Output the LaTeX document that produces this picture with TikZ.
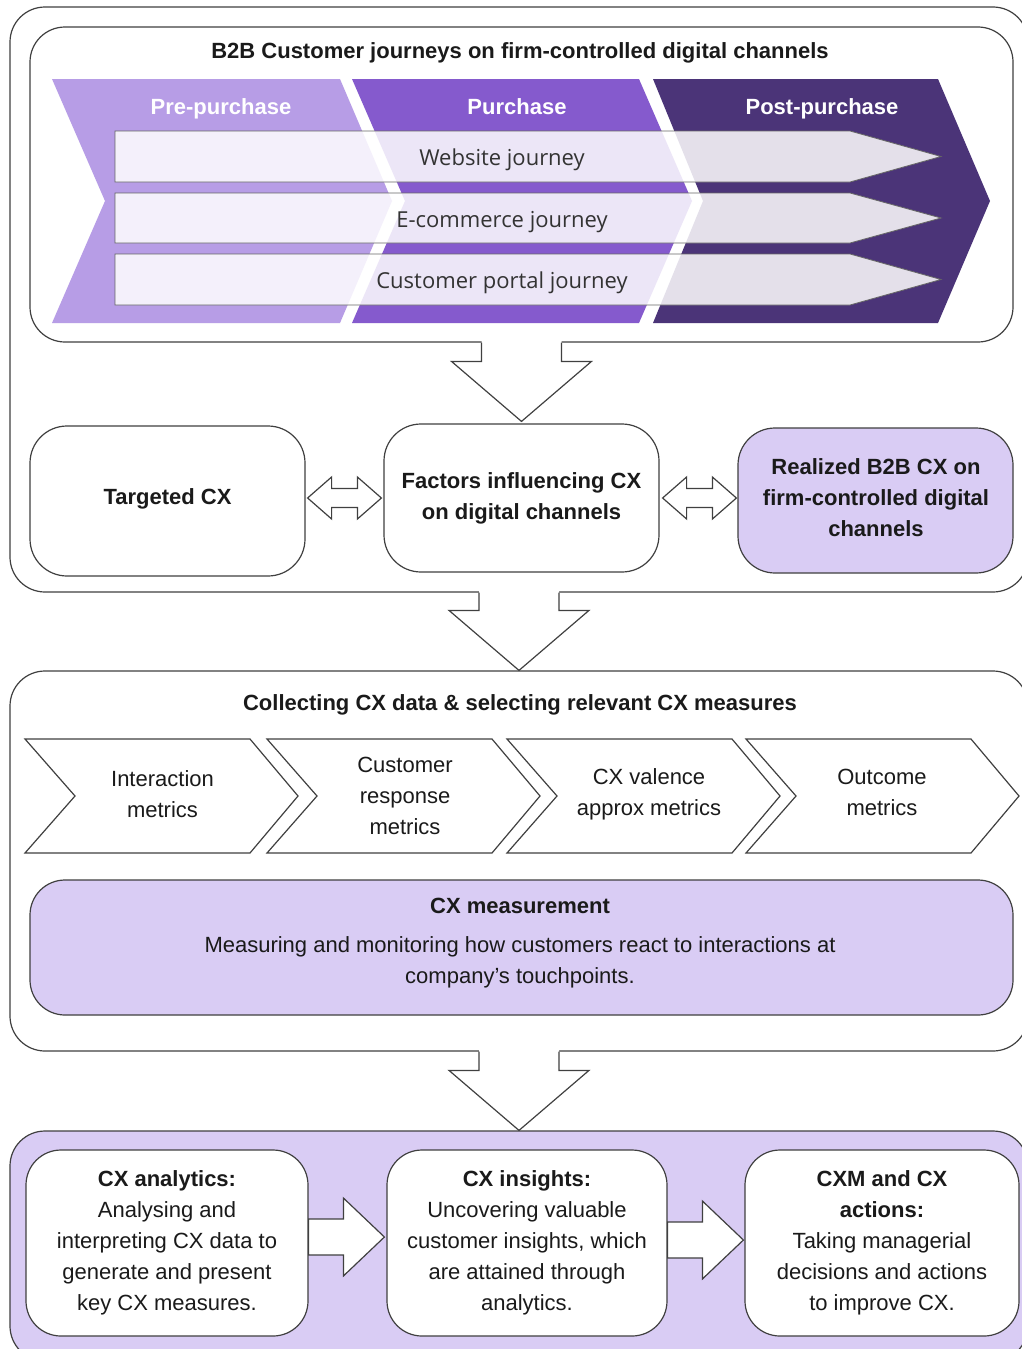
\documentclass[tikz,border=0pt]{standalone}
\usepackage{fontspec}
\setmainfont{Liberation Sans}
\newfontfamily\osans{Open Sans}
\usetikzlibrary{calc}
\definecolor{lc}{HTML}{404040}
\definecolor{lav}{HTML}{D9CCF4}
\definecolor{preC}{HTML}{B79DE6}
\definecolor{purC}{HTML}{855ACD}
\definecolor{postC}{HTML}{4B3478}
\definecolor{txt}{HTML}{1A1A1A}
\definecolor{jtxt}{HTML}{333333}
\tikzset{
  every node/.style={font=\fontsize{22}{31}\selectfont, text=txt},
  conn/.style={draw=lc, line width=1.2pt, line join=miter},
  frame/.style={draw=lc, line width=1.2pt, rounded corners=35pt, inner sep=0pt},
  rbox/.style={draw=lc, line width=1.2pt, rounded corners=37pt, inner sep=0pt, align=center, fill=white},
  bold/.style={font=\fontsize{22}{31}\selectfont\bfseries, align=center},
  oneline/.style={text height=16pt, text depth=5pt},
  lbl/.style={align=center},
  phase/.style={font=\fontsize{22}{31}\selectfont\bfseries, text=white, oneline},
  jlab/.style={font=\fontsize{22}{31}\selectfont\osans, text=jtxt, oneline},
  barst/.style={fill=white, fill opacity=0.85, draw=black!60, line width=0.8pt}
}
\newcommand\blockdown[2]{%
  \fill[white] ($(#1)+(-40,-2)$) -- ($(#2)+(-40,-60)$) -- ($(#2)+(-70,-60)$) -- (#2) -- ($(#2)+(70,-60)$) -- ($(#2)+(40,-60)$) -- ($(#1)+(40,-2)$) -- cycle;
  \draw[conn] ($(#1)+(-40,0)$) -- ($(#2)+(-40,-60)$) -- ($(#2)+(-70,-60)$) -- (#2) -- ($(#2)+(70,-60)$) -- ($(#2)+(40,-60)$) -- ($(#1)+(40,0)$);}
\newcommand\blockdouble[2]{%
  \filldraw[conn, fill=white] (#1) -- ($(#1)+(24,-21)$) -- ($(#1)+(24,-9.5)$) -- ($(#2)+(-24,-9.5)$) -- ($(#2)+(-24,-21)$) -- (#2) -- ($(#2)+(-24,21)$) -- ($(#2)+(-24,9.5)$) -- ($(#1)+(24,9.5)$) -- ($(#1)+(24,21)$) -- cycle;}
\newcommand\blockright[2]{%
  \filldraw[conn, fill=white] ($(#1)+(0,-18)$) -- ($(#2)+(-41,-18)$) -- ($(#2)+(-41,-39)$) -- (#2) -- ($(#2)+(-41,39)$) -- ($(#2)+(-41,18)$) -- ($(#1)+(0,18)$) -- cycle;}
\newcommand\mchev[1]{%
  \filldraw[conn, fill=white] (#1,739) -- ({#1+225},739) -- ({#1+273},796) -- ({#1+225},853) -- (#1,853) -- ({#1+50},796) -- cycle;}
\newcommand\jbar[2]{%
  \filldraw[barst] (115,#1) -- (850,#1) -- (941,{(#1+#2)/2}) -- (850,#2) -- (115,#2) -- cycle;}
\begin{document}
\begin{tikzpicture}[x=1pt,y=-1pt]
\useasboundingbox (0,0) rectangle (1022,1349);
\clip (0,0) rectangle (1022,1349);
\fill[white] (0,0) rectangle (1022,1349);

% outer frames
\node[frame, fill=white, minimum width=1018pt, minimum height=585pt] (o1) at (519,299.5) {};
\node[frame, fill=white, minimum width=1018pt, minimum height=380pt] (o2) at (519,861) {};
\node[frame, fill=lav, minimum width=1018pt, minimum height=230pt] (o3) at (519,1246) {};

% journey box
\node[frame, fill=white, minimum width=983pt, minimum height=315pt] (jb) at (521.5,184.5) {};
\node[bold, oneline] (jt) at (520,52.5) {B2B Customer journeys on firm-controlled digital channels};

% phase chevrons
\fill[preC] (52,79) -- (340,79) -- (392,201) -- (340,323) -- (52,323) -- (105,201) -- cycle;
\fill[purC] (352,79) -- (639,79) -- (692,201) -- (639,323) -- (352,323) -- (405,201) -- cycle;
\fill[postC] (653,79) -- (938,79) -- (990,201) -- (938,323) -- (653,323) -- (703,201) -- cycle;
\node[phase] (ph1) at (221,108.5) {Pre-purchase};
\node[phase] (ph2) at (517,108.5) {Purchase};
\node[phase] (ph3) at (822,108.5) {Post-purchase};

% journey bars
\jbar{131}{182}
\jbar{193}{243}
\jbar{254}{305}
\node[jlab] (jw) at (502,159.5) {Website journey};
\node[jlab] (je) at (502,221.5) {E-commerce journey};
\node[jlab] (jc) at (502,282.5) {Customer portal journey};

% middle row
\node[rbox, minimum width=275pt, minimum height=150pt] (targ) at (167.5,501) {};
\node[bold, oneline] (targt) at (167.5,498.5) {Targeted CX};
\node[rbox, font=\fontsize{22}{31}\selectfont\bfseries, minimum width=275pt, minimum height=148pt] (fac) at (521.5,498) {Factors influencing CX\\on digital channels};
\node[rbox, fill=lav, minimum width=275pt, minimum height=145pt] (real) at (875.5,500.5) {};
\node[bold] (realt) at (876,498) {Realized B2B CX on\\firm-controlled digital\\channels};

\coordinate (a1t) at (fac.north |- jb.south);
\coordinate (a1p) at ($(fac.north)+(0,-2)$);
\blockdown{a1t}{a1p}
\coordinate (d1l) at ($(targ.east |- fac.west)+(2,0)$);
\coordinate (d1r) at ($(fac.west)+(-2,0)$);
\blockdouble{d1l}{d1r}
\coordinate (d2l) at ($(fac.east)+(3,0)$);
\coordinate (d2r) at ($(real.west |- fac.east)+(-1,0)$);
\blockdouble{d2l}{d2r}

% arrow to collecting box
\coordinate (a2t) at (o1.south);
\coordinate (a2p) at (o2.north);
\blockdown{a2t}{a2p}

% collecting box
\node[bold, oneline] (ctitle) at (520,704.5) {Collecting CX data \& selecting relevant CX measures};
\mchev{25}
\mchev{267}
\mchev{507}
\mchev{746}
\node[lbl] (m1) at (162.5,794) {Interaction\\metrics};
\node[lbl] (m2) at (405,796) {Customer\\response\\metrics};
\node[lbl] (m3) at (649,794.5) {CX valence\\approx metrics};
\node[lbl] (m4) at (882,792.5) {Outcome\\metrics};

\node[rbox, fill=lav, rounded corners=35pt, minimum width=983pt, minimum height=135pt] (meas) at (521.5,947.5) {};
\node[lbl] (mtext) at (520,943.5) {\textbf{CX measurement}\\[8pt]Measuring and monitoring how customers react to interactions at\\company’s touchpoints.};

% arrow to bottom box
\coordinate (a3t) at (o2.south);
\coordinate (a3p) at (o3.north);
\blockdown{a3t}{a3p}

% bottom boxes
\node[rbox, rounded corners=35pt, minimum width=282pt, minimum height=186pt] (b1) at (167,1243) {\textbf{CX analytics:}\\Analysing and\\interpreting CX data to\\generate and present\\key CX measures.};
\node[rbox, rounded corners=35pt, minimum width=280pt, minimum height=186pt] (b2) at (527,1243) {\textbf{CX insights:}\\Uncovering valuable\\customer insights, which\\are attained through\\analytics.};
\node[rbox, rounded corners=35pt, minimum width=274pt, minimum height=186pt] (b3) at (882,1243) {\textbf{CXM and CX}\\\textbf{actions:}\\Taking managerial\\decisions and actions\\to improve CX.};

\coordinate (r1s) at ($(b1.east)+(0,-6)$);
\coordinate (r1p) at ($(b2.west |- r1s)+(-2,0)$);
\blockright{r1s}{r1p}
\coordinate (r2s) at ($(b2.east)+(0,-3)$);
\coordinate (r2p) at ($(b3.west |- r2s)+(-1,0)$);
\blockright{r2s}{r2p}
\end{tikzpicture}
\end{document}
